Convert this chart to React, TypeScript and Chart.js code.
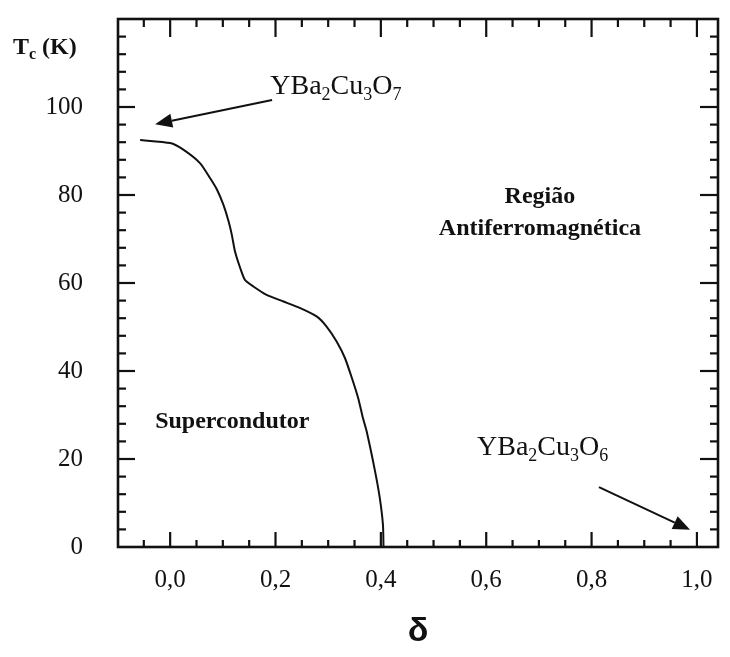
import React, { useEffect, useRef } from 'react';
import { Chart, registerables } from 'chart.js';

Chart.register(...registerables);

// Curve: Tc (K) versus delta
const deltaValues = [-0.057, 0.0, 0.025, 0.057, 0.076, 0.089, 0.101, 0.111, 0.117, 0.123, 0.133, 0.142, 0.158, 0.183, 0.215, 0.247, 0.278, 0.297, 0.316, 0.332, 0.345, 0.357, 0.366, 0.373, 0.389, 0.398, 0.404, 0.405];
const tcValues = [92.5, 91.8, 90.3, 87.2, 83.8, 81.2, 77.8, 74.0, 71.0, 67.2, 63.4, 60.7, 59.2, 57.3, 55.8, 54.3, 52.4, 50.1, 46.7, 42.9, 38.4, 33.8, 29.3, 26.3, 17.2, 11.1, 5.0, 0.0];

// Axes
const xRange = [-0.099, 1.04];
const yRange = [0, 120];
const xMinorTicks = [-0.05, 0, 0.05, 0.1, 0.15, 0.2, 0.25, 0.3, 0.35, 0.4, 0.45, 0.5, 0.55, 0.6, 0.65, 0.7, 0.75, 0.8, 0.85, 0.9, 0.95, 1.0];
const xMajorTicks = [0, 0.2, 0.4, 0.6, 0.8, 1.0];
const xTickLabels = ['0,0', '0,2', '0,4', '0,6', '0,8', '1,0'];
const yMinorTicks = [0, 4, 8, 12, 16, 20, 24, 28, 32, 36, 40, 44, 48, 52, 56, 60, 64, 68, 72, 76, 80, 84, 88, 92, 96, 100, 104, 108, 112, 116];
const yMajorTicks = [0, 20, 40, 60, 80, 100];
const yTickLabels = ['0', '20', '40', '60', '80', '100'];

// Texts
const xAxisTitle = 'δ';
const yAxisTitle: [string, boolean][] = [['T', false], ['c', true], [' (K)', false]];
const formulaO7: [string, boolean][] = [['YBa', false], ['2', true], ['Cu', false], ['3', true], ['O', false], ['7', true]];
const formulaO6: [string, boolean][] = [['YBa', false], ['2', true], ['Cu', false], ['3', true], ['O', false], ['6', true]];
const regionLines = ['Região', 'Antiferromagnética'];
const superLabel = 'Supercondutor';

const INK = '#111';
const SERIF = '"Liberation Serif", "Times New Roman", serif';

function findLabel(v: number, majors: number[], labels: string[]) {
  const i = majors.findIndex((m) => Math.abs(m - v) < 1e-6);
  return i >= 0 ? labels[i] : '';
}

function drawRich(ctx: CanvasRenderingContext2D, parts: [string, boolean][], x: number, y: number, size: number, bold: boolean) {
  let cx = x;
  for (const [t, sub] of parts) {
    const fs = sub ? Math.round(size * 0.66) : size;
    ctx.font = `${bold ? 'bold ' : ''}${fs}px ${SERIF}`;
    ctx.fillText(t, cx, sub ? y + size * 0.22 : y);
    cx += ctx.measureText(t).width;
  }
}

function drawArrow(ctx: CanvasRenderingContext2D, x1: number, y1: number, x2: number, y2: number) {
  const ang = Math.atan2(y2 - y1, x2 - x1);
  const hl = 17;
  const hw = 7;
  const c = Math.cos(ang);
  const s = Math.sin(ang);
  const bx = x2 - hl * c;
  const by = y2 - hl * s;
  ctx.beginPath();
  ctx.moveTo(x1, y1);
  ctx.lineTo(bx, by);
  ctx.stroke();
  ctx.beginPath();
  ctx.moveTo(x2, y2);
  ctx.lineTo(bx + hw * s, by - hw * c);
  ctx.lineTo(bx - hw * s, by + hw * c);
  ctx.closePath();
  ctx.fill();
}

const decorPlugin = {
  id: 'decor',
  afterDatasetsDraw(chart: any) {
    const { ctx, chartArea: a, scales } = chart;
    const x = scales.x;
    const y = scales.y;
    const X = (v: number) => x.getPixelForValue(v);
    const Y = (v: number) => y.getPixelForValue(v);
    ctx.save();
    ctx.strokeStyle = INK;
    ctx.fillStyle = INK;
    ctx.lineCap = 'butt';

    // inward tick marks on all four sides
    ctx.lineWidth = 2.2;
    const seg = (x1: number, y1: number, x2: number, y2: number) => {
      ctx.beginPath();
      ctx.moveTo(x1, y1);
      ctx.lineTo(x2, y2);
      ctx.stroke();
    };
    for (const v of xMinorTicks) {
      const px = X(v);
      if (px <= a.left + 2 || px >= a.right - 2) continue;
      const major = xMajorTicks.some((m) => Math.abs(m - v) < 1e-6);
      seg(px, a.bottom, px, a.bottom - (major ? 15 : 7));
      seg(px, a.top, px, a.top + (major ? 18 : 8));
    }
    for (const v of yMinorTicks) {
      const py = Y(v);
      if (py >= a.bottom - 2 || py <= a.top + 2) continue;
      const major = yMajorTicks.some((m) => Math.abs(m - v) < 1e-6);
      seg(a.left, py, a.left + (major ? 17 : 8), py);
      seg(a.right, py, a.right - (major ? 18 : 8), py);
    }

    // frame
    ctx.lineWidth = 2.6;
    ctx.strokeRect(a.left, a.top, a.right - a.left, a.bottom - a.top);

    // texts
    ctx.textAlign = 'left';
    ctx.textBaseline = 'alphabetic';
    drawRich(ctx, yAxisTitle, a.left - 105, Y(112), 24, true);
    drawRich(ctx, formulaO7, X(0.19), Y(103), 28, false);
    drawRich(ctx, formulaO6, X(0.5825), Y(20.9), 28, false);

    ctx.font = `bold 24px ${SERIF}`;
    ctx.fillText(superLabel, X(-0.0285), Y(27));
    ctx.textAlign = 'center';
    ctx.fillText(regionLines[0], X(0.702), Y(78.2));
    ctx.fillText(regionLines[1], X(0.702), Y(70.9));

    // arrows
    ctx.lineWidth = 2;
    drawArrow(ctx, X(0.1935), Y(101.6), X(-0.0285), Y(96.1));
    drawArrow(ctx, X(0.814), Y(13.6), X(0.987), Y(3.9));

    ctx.restore();
  },
};

export default function App() {
  const ref = useRef<HTMLCanvasElement>(null);

  useEffect(() => {
    if (!ref.current) return;
    const chart = new Chart(ref.current, {
      type: 'line',
      data: {
        datasets: [
          {
            data: deltaValues.map((d, i) => ({ x: d, y: tcValues[i] })),
            borderColor: INK,
            borderWidth: 2,
            pointRadius: 0,
            tension: 0.2,
            fill: false,
          },
        ],
      },
      options: {
        animation: false,
        responsive: false,
        layout: { padding: { top: 19, right: 12, left: 0, bottom: 0 } },
        plugins: { legend: { display: false }, tooltip: { enabled: false } },
        scales: {
          x: {
            type: 'linear',
            min: xRange[0],
            max: xRange[1],
            afterBuildTicks: (s: any) => {
              s.ticks = xMinorTicks.map((value) => ({ value }));
            },
            afterFit: (s: any) => {
              s.height = 110;
              s.paddingLeft = 0;
              s.paddingRight = 0;
            },
            grid: { display: false, drawTicks: false },
            border: { display: false },
            ticks: {
              autoSkip: false,
              maxRotation: 0,
              padding: 18,
              color: INK,
              font: { family: SERIF, size: 25 },
              callback: (v: any) => findLabel(Number(v), xMajorTicks, xTickLabels),
            },
            title: {
              display: true,
              text: xAxisTitle,
              color: INK,
              font: { family: '"Liberation Sans", Arial, sans-serif', size: 34, weight: 'bold' },
              padding: { top: 0, bottom: 5 },
            },
          },
          y: {
            type: 'linear',
            min: yRange[0],
            max: yRange[1],
            afterBuildTicks: (s: any) => {
              s.ticks = yMinorTicks.map((value) => ({ value }));
            },
            afterFit: (s: any) => {
              s.width = 118;
              s.paddingTop = 0;
              s.paddingBottom = 0;
            },
            grid: { display: false, drawTicks: false },
            border: { display: false },
            ticks: {
              autoSkip: false,
              padding: 35,
              color: INK,
              font: { family: SERIF, size: 25 },
              callback: (v: any) => findLabel(Number(v), yMajorTicks, yTickLabels),
            },
          },
        },
      },
      plugins: [decorPlugin],
    });
    return () => chart.destroy();
  }, []);

  return (
    <div style={{ position: 'absolute', left: 0, top: 0, width: 730, height: 657, background: '#fff' }}>
      <canvas ref={ref} width={730} height={657} style={{ display: 'block' }} />
    </div>
  );
}
